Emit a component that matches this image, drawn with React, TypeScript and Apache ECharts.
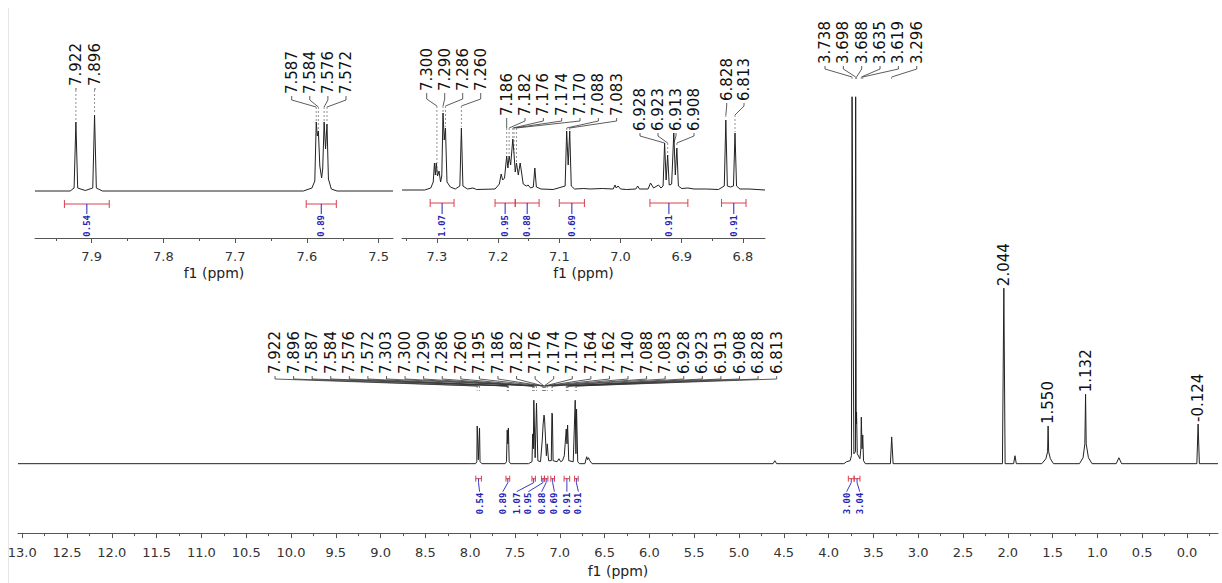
import React, { useEffect, useRef } from "react";
import * as echarts from "echarts";

// ---------- axis tick values ----------
const mainTickLabels = [13.0, 12.5, 12.0, 11.5, 11.0, 10.5, 10.0, 9.5, 9.0, 8.5, 8.0, 7.5, 7.0, 6.5, 6.0, 5.5, 5.0, 4.5, 4.0, 3.5, 3.0, 2.5, 2.0, 1.5, 1.0, 0.5, 0.0];
const mainMinorTicks = [12.75, 12.25, 11.75, 11.25, 10.75, 10.25, 9.75, 9.25, 8.75, 8.25, 7.75, 7.25, 6.75, 6.25, 5.75, 5.25, 4.75, 4.25, 3.75, 3.25, 2.75, 2.25, 1.75, 1.25, 0.75, 0.25, -0.25];
const leftTickLabels = [7.9, 7.8, 7.7, 7.6, 7.5];
const leftMinorTicks = [7.95, 7.85, 7.75, 7.65, 7.55];
const rightTickLabels = [7.3, 7.2, 7.1, 7.0, 6.9, 6.8];
const rightMinorTicks = [7.35, 7.25, 7.15, 7.05, 6.95, 6.85];

// ---------- spectrum traces [ppm, intensity] ----------
const mainTrace = [
  [13.047, 0], [8.0, 0], [7.94, 0], [7.926, 2], [7.922, 38], [7.909, 4], [7.896, 36], [7.89, 2], [7.87, 0],
  [7.61, 0], [7.595, 2], [7.587, 34], [7.58, 20], [7.574, 36], [7.565, 2], [7.55, 0],
  [7.35, 0], [7.31, 2], [7.303, 30], [7.295, 15], [7.29, 64], [7.275, 6], [7.26, 61], [7.245, 3], [7.215, 2],
  [7.195, 25], [7.186, 40], [7.176, 49], [7.17, 45], [7.162, 30], [7.15, 8], [7.14, 20], [7.125, 3],
  [7.095, 3], [7.088, 51], [7.083, 50], [7.075, 3], [7.03, 2], [7.01, 5], [6.99, 2], [6.97, 3], [6.95, 8],
  [6.928, 35], [6.92, 20], [6.913, 39], [6.9, 3], [6.85, 2], [6.828, 64], [6.82, 10], [6.813, 55], [6.8, 2], [6.78, 0],
  [6.72, 0], [6.7, 7], [6.69, 4], [6.68, 6], [6.665, 3], [6.64, 0],
  [4.62, 0], [4.6, 3], [4.58, 0],
  [3.83, 0], [3.8, 2], [3.76, 3], [3.745, 8], [3.738, 370], [3.718, 10], [3.7, 12], [3.698, 370], [3.692, 40],
  [3.688, 52], [3.68, 10], [3.65, 5], [3.64, 15], [3.635, 47], [3.627, 15], [3.619, 29], [3.61, 3], [3.59, 0],
  [3.31, 0], [3.296, 27], [3.28, 0],
  [2.06, 0], [2.044, 177], [2.03, 0],
  [1.935, 0], [1.92, 8], [1.905, 0],
  [1.62, 0], [1.575, 5], [1.556, 12], [1.55, 38], [1.544, 12], [1.525, 5], [1.49, 0],
  [1.2, 0], [1.16, 6], [1.14, 20], [1.132, 70], [1.125, 20], [1.1, 6], [1.06, 0],
  [0.79, 0], [0.76, 6], [0.73, 0],
  [-0.11, 0], [-0.124, 40], [-0.138, 0], [-0.346, 0],
];

const leftTrace = [
  [7.979, 0], [7.93, 0], [7.9245, 3], [7.922, 69], [7.9195, 3], [7.909, 0.5], [7.8985, 3], [7.896, 76], [7.8935, 3], [7.885, 0],
  [7.605, 0], [7.593, 3], [7.589, 10], [7.587, 69], [7.5855, 55], [7.584, 60], [7.582, 25], [7.5795, 13], [7.578, 22],
  [7.576, 69], [7.574, 42], [7.572, 67], [7.57, 12], [7.566, 2], [7.558, 0], [7.48, 0],
];

const rightTrace = [
  [7.357, 0], [7.32, 0], [7.31, 2], [7.306, 8], [7.304, 27], [7.3025, 15], [7.301, 27], [7.299, 14], [7.2965, 19], [7.294, 8],
  [7.292, 14], [7.29, 77], [7.288, 50], [7.286, 62], [7.2835, 8], [7.278, 3], [7.27, 1], [7.2625, 4], [7.26, 62], [7.2575, 4],
  [7.25, 1], [7.241, 2], [7.235, 0.5], [7.205, 1], [7.198, 6], [7.195, 16], [7.1925, 10], [7.1895, 12], [7.186, 34], [7.184, 22],
  [7.182, 34], [7.1795, 25], [7.176, 51], [7.174, 36], [7.172, 18], [7.17, 27], [7.167, 15], [7.164, 27], [7.162, 19], [7.159, 6],
  [7.154, 4], [7.151, 5], [7.147, 2], [7.1425, 3], [7.14, 22], [7.1375, 3], [7.13, 1], [7.11, 0.5], [7.0905, 4], [7.088, 59],
  [7.0855, 25], [7.083, 59], [7.0805, 4], [7.075, 1], [7.06, 1.5], [7.05, 1], [7.03, 1.5], [7.012, 1], [7.009, 5], [7.007, 2],
  [7.004, 4], [7.0, 1], [6.99, 0.5], [6.975, 1], [6.972, 4], [6.969, 1], [6.955, 1], [6.951, 7], [6.946, 2], [6.938, 5],
  [6.934, 2], [6.9305, 4], [6.928, 47], [6.9255, 10], [6.923, 35], [6.9205, 5], [6.9165, 6], [6.913, 57], [6.9105, 15], [6.908, 42],
  [6.9055, 4], [6.9, 1.5], [6.89, 2], [6.88, 1], [6.86, 1], [6.84, 0.5], [6.8305, 4], [6.828, 70], [6.8255, 4], [6.8205, 3],
  [6.8155, 4], [6.813, 57], [6.8105, 4], [6.805, 1], [6.79, 1], [6.764, 0],
];

// ---------- peak labels (ppm) ----------
const mainMultipletLabels = [7.922, 7.896, 7.587, 7.584, 7.576, 7.572, 7.303, 7.300, 7.290, 7.286, 7.260, 7.195, 7.186, 7.182, 7.176, 7.174, 7.170, 7.164, 7.162, 7.140, 7.088, 7.083, 6.928, 6.923, 6.913, 6.908, 6.828, 6.813];
const mainMethoxyLabels = [3.738, 3.698, 3.688, 3.635, 3.619, 3.296];
const mainSingleLabels = [2.044, 1.550, 1.132, -0.124];
const leftLabelsA = [7.922, 7.896];
const leftLabelsB = [7.587, 7.584, 7.576, 7.572];
const rightLabelsA = [7.300, 7.290, 7.286, 7.260];
const rightLabelsB = [7.186, 7.182, 7.176, 7.174, 7.170, 7.088, 7.083];
const rightLabelsC = [6.928, 6.923, 6.913, 6.908];
const rightLabelsD = [6.828, 6.813];

// ---------- integrals [from ppm, to ppm] and values ----------
const leftIntegralRanges = [[7.938, 7.8755], [7.601, 7.559]];
const leftIntegralValues = ["0.54", "0.89"];
const rightIntegralRanges = [[7.311, 7.272], [7.205, 7.172], [7.172, 7.133], [7.1, 7.059], [6.952, 6.89], [6.835, 6.795]];
const rightIntegralValues = ["1.07", "0.95", "0.88", "0.69", "0.91", "0.91"];
const mainIntegralRanges = [[7.938, 7.8755], [7.601, 7.559], [7.311, 7.272], [7.205, 7.172], [7.172, 7.133], [7.1, 7.059], [6.952, 6.89], [6.835, 6.795], [3.78, 3.715], [3.715, 3.65]];
const mainIntegralValues = ["0.54", "0.89", "1.07", "0.95", "0.88", "0.69", "0.91", "0.91", "3.00", "3.04"];
// label placement offsets (px) for the crowded main integrals
const mainIntegralTextDx = [1, -5, -17, -14.5, -4.5, 1.7, 0, 2, -4.6, 2.7];

const FONT = '"DejaVu Sans", Verdana, sans-serif';

function nearestHeight(trace: number[][], ppm: number) {
  let best = trace[0];
  for (const pt of trace) if (Math.abs(pt[0] - ppm) < Math.abs(best[0] - ppm)) best = pt;
  return best[1];
}

type LabelLayout = {
  single?: boolean;
  startX?: number;
  spacing?: number;
  textBottom?: number;
  kneeY?: number;
  angleY?: number;
  drop?: number | "peak";
  gap?: number;
};

function textEl(x: number, y: number, text: string, font: string, fill: string, align: string) {
  return {
    type: "text",
    x,
    y,
    rotation: Math.PI / 2,
    style: {
      text,
      font,
      fill,
      align,
      verticalAlign: "middle",
      textAlign: align,
      textVerticalAlign: "middle",
    },
  };
}

function labelSeries(ppms: number[], layout: LabelLayout, xAxisIndex: number, yAxisIndex: number, trace: number[][]) {
  return {
    type: "custom",
    xAxisIndex,
    yAxisIndex,
    clip: false,
    silent: true,
    data: ppms.map((p) => [p, nearestHeight(trace, p)]),
    renderItem: (params: any, api: any) => {
      const i = params.dataIndex;
      const ppm = ppms[i];
      const h = nearestHeight(trace, ppm);
      const pt = api.coord([ppm, h]);
      const px = pt[0];
      const py = pt[1];
      const children: any[] = [];
      if (layout.single) {
        const tb = py - (layout.gap || 2);
        children.push(textEl(px, tb, ppm.toFixed(3), "15px " + FONT, "#111", "left"));
      } else {
        const lx = (layout.startX as number) + i * (layout.spacing as number);
        const tb = layout.textBottom as number;
        children.push(textEl(lx, tb, ppm.toFixed(3), "15px " + FONT, "#111", "left"));
        children.push({
          type: "polyline",
          shape: { points: [[lx, tb + 2], [lx, layout.kneeY], [px, layout.angleY]] },
          style: { stroke: "#333", fill: "none", lineWidth: 0.8 },
        });
        const angleY = layout.angleY as number;
        const dropEnd = layout.drop === "peak" ? py - 1 : angleY + (layout.drop as number);
        if (dropEnd > angleY) {
          children.push({
            type: "line",
            shape: { x1: px, y1: angleY, x2: px, y2: dropEnd },
            style: { stroke: "#777", lineWidth: 0.8, lineDash: [2, 2] },
          });
        }
      }
      return { type: "group", children };
    },
  };
}

type IntegralCfg = { bracketOffset: number; textOffset: number; cap: number; hook: boolean; dx?: number[] };

function integralSeries(ranges: number[][], values: string[], cfg: IntegralCfg, xAxisIndex: number, yAxisIndex: number) {
  return {
    type: "custom",
    xAxisIndex,
    yAxisIndex,
    clip: false,
    silent: true,
    data: ranges.map((r) => [r[0], r[1]]),
    renderItem: (params: any, api: any) => {
      const i = params.dataIndex;
      const a = api.coord([ranges[i][0], 0]);
      const b = api.coord([ranges[i][1], 0]);
      const by = a[1] + cfg.bracketOffset;
      const cx = (a[0] + b[0]) / 2;
      const tx = cx + (cfg.dx ? cfg.dx[i] : 0);
      const ty = a[1] + cfg.textOffset;
      const red = "#d8404f";
      const blue = "#2424b4";
      const children: any[] = [
        { type: "line", shape: { x1: a[0], y1: by, x2: b[0], y2: by }, style: { stroke: red, lineWidth: 1 } },
        { type: "line", shape: { x1: a[0], y1: by - cfg.cap, x2: a[0], y2: by + cfg.cap }, style: { stroke: red, lineWidth: 1 } },
        { type: "line", shape: { x1: b[0], y1: by - cfg.cap, x2: b[0], y2: by + cfg.cap }, style: { stroke: red, lineWidth: 1 } },
      ];
      if (cfg.hook) {
        children.push({
          type: "polyline",
          shape: { points: [[cx, by], [cx, by + 4], [tx, ty - 1]] },
          style: { stroke: blue, fill: "none", lineWidth: 0.9 },
        });
      } else {
        children.push({
          type: "line",
          shape: { x1: cx, y1: by, x2: cx, y2: ty - 1 },
          style: { stroke: blue, lineWidth: 1 },
        });
      }
      children.push(textEl(tx, ty, values[i], "bold 9px \"DejaVu Sans Mono\", monospace", blue, "right"));
      return { type: "group", children };
    },
  };
}

function majorAxis(gridIndex: number, min: number, max: number, ticks: number[], nameGap: number, labelMargin: number) {
  return {
    type: "value",
    gridIndex,
    position: "bottom",
    min,
    max,
    inverse: true,
    name: "f1 (ppm)",
    nameLocation: "middle",
    nameGap,
    nameTextStyle: { fontFamily: FONT, fontSize: 14, color: "#222" },
    axisLine: { show: true, onZero: false, lineStyle: { color: "#555", width: 1 } },
    axisTick: { show: true, length: 5, customValues: ticks, lineStyle: { color: "#555" } },
    axisLabel: {
      show: true,
      customValues: ticks,
      formatter: (v: number) => v.toFixed(1),
      fontFamily: FONT,
      fontSize: 13,
      color: "#333",
      margin: labelMargin,
    },
    splitLine: { show: false },
  };
}

function minorAxis(gridIndex: number, min: number, max: number, ticks: number[]) {
  return {
    type: "value",
    gridIndex,
    position: "bottom",
    min,
    max,
    inverse: true,
    axisLine: { show: false, onZero: false },
    axisTick: { show: true, length: 3, customValues: ticks, lineStyle: { color: "#555" } },
    axisLabel: { show: false },
    splitLine: { show: false },
  };
}

function hiddenY(gridIndex: number, min: number, max: number) {
  return { type: "value", gridIndex, min, max, show: false, splitLine: { show: false } };
}

function traceSeries(data: number[][], xAxisIndex: number, yAxisIndex: number) {
  return {
    type: "line",
    xAxisIndex,
    yAxisIndex,
    data,
    symbol: "none",
    silent: true,
    lineStyle: { color: "#222", width: 1 },
  };
}

export default function App() {
  const ref = useRef<HTMLDivElement>(null);
  useEffect(() => {
    if (!ref.current) return;
    const chart = echarts.init(ref.current, undefined, { renderer: "svg" });
    const option: any = {
      animation: false,
      backgroundColor: "#ffffff",
      textStyle: { fontFamily: FONT },
      grid: [
        { left: 18, top: 67, width: 1200, height: 470 },
        { left: 35, top: 91, width: 358, height: 147 },
        { left: 402, top: 91, width: 363, height: 147 },
      ],
      xAxis: [
        majorAxis(0, -0.346, 13.047, mainTickLabels, 29, 13),
        minorAxis(0, -0.346, 13.047, mainMinorTicks),
        majorAxis(1, 7.48, 7.979, leftTickLabels, 28, 12),
        minorAxis(1, 7.48, 7.979, leftMinorTicks),
        majorAxis(2, 6.764, 7.357, rightTickLabels, 28, 12),
        minorAxis(2, 6.764, 7.357, rightMinorTicks),
      ],
      yAxis: [hiddenY(0, -70, 400), hiddenY(1, -47, 100), hiddenY(2, -48, 99)],
      graphic: [
        { type: "line", shape: { x1: 8.5, y1: 8, x2: 8.5, y2: 583 }, style: { stroke: "#e6e6e6", lineWidth: 1 } },
      ],
      series: [
        traceSeries(mainTrace, 0, 0),
        traceSeries(leftTrace, 2, 1),
        traceSeries(rightTrace, 4, 2),
        labelSeries(mainMultipletLabels, { startX: 275, spacing: 18.58, textBottom: 374, kneeY: 379, angleY: 386, drop: 5 }, 0, 0, mainTrace),
        labelSeries(mainMethoxyLabels, { startX: 825, spacing: 18.35, textBottom: 64, kneeY: 69, angleY: 77, drop: 4 }, 0, 0, mainTrace),
        labelSeries(mainSingleLabels, { single: true, gap: 2 }, 0, 0, mainTrace),
        labelSeries(leftLabelsA, { startX: 76, spacing: 19, textBottom: 86, kneeY: 89, angleY: 90, drop: "peak" }, 2, 1, leftTrace),
        labelSeries(leftLabelsB, { startX: 291.7, spacing: 18.1, textBottom: 94, kneeY: 100, angleY: 107, drop: "peak" }, 2, 1, leftTrace),
        labelSeries(rightLabelsA, { startX: 426.7, spacing: 18, textBottom: 91, kneeY: 99, angleY: 106, drop: "peak" }, 4, 2, rightTrace),
        labelSeries(rightLabelsB, { startX: 506.7, spacing: 18.33, textBottom: 116, kneeY: 121, angleY: 128, drop: "peak" }, 4, 2, rightTrace),
        labelSeries(rightLabelsC, { startX: 640, spacing: 18, textBottom: 131, kneeY: 136, angleY: 143, drop: "peak" }, 4, 2, rightTrace),
        labelSeries(rightLabelsD, { startX: 726.7, spacing: 17.3, textBottom: 101, kneeY: 106, angleY: 115, drop: "peak" }, 4, 2, rightTrace),
        integralSeries(leftIntegralRanges, leftIntegralValues, { bracketOffset: 13, textOffset: 24, cap: 4, hook: false }, 2, 1),
        integralSeries(rightIntegralRanges, rightIntegralValues, { bracketOffset: 13, textOffset: 25, cap: 4, hook: false }, 4, 2),
        integralSeries(mainIntegralRanges, mainIntegralValues, { bracketOffset: 15, textOffset: 29, cap: 3, hook: true, dx: mainIntegralTextDx }, 0, 0),
      ],
    };
    chart.setOption(option);
    return () => chart.dispose();
  }, []);
  return (
    <div
      ref={ref}
      style={{ position: "fixed", left: 0, top: 0, width: 1222, height: 583, background: "#fff" }}
    />
  );
}
